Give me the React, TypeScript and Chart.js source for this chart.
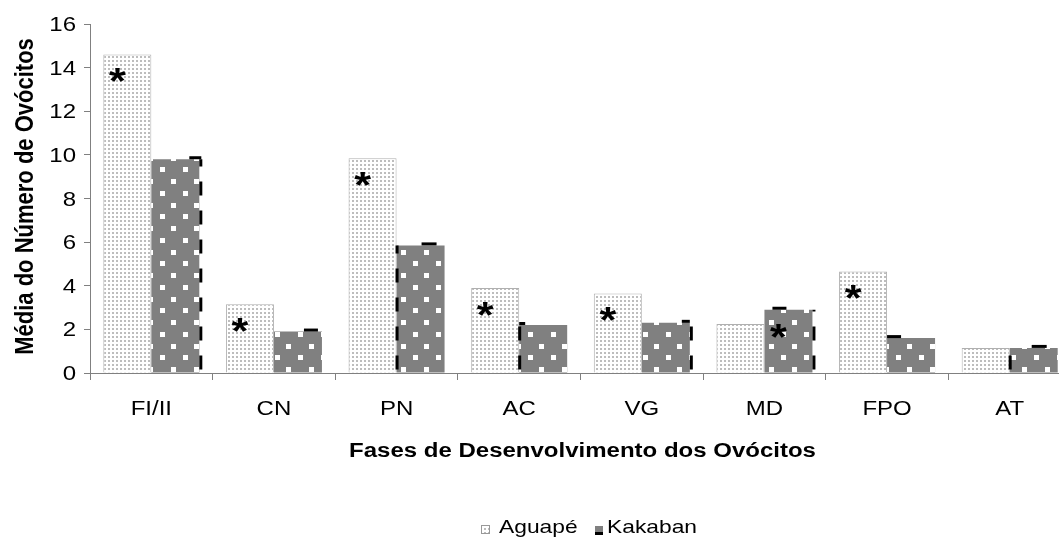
import React, { useEffect, useRef } from 'react';
import { Chart, registerables } from 'chart.js';

Chart.register(...registerables);

// ---------- data ----------
const categories = ['FI/II', 'CN', 'PN', 'AC', 'VG', 'MD', 'FPO', 'AT'];
const seriesNames = ['Aguapé', 'Kakaban'];
const aguapeValues = [14.6, 3.15, 9.85, 3.9, 3.65, 2.25, 4.65, 1.15];
const kakabanValues = [9.8, 1.9, 5.85, 2.2, 2.3, 2.9, 1.6, 1.15];
const aguapeSignificant = [true, true, true, true, true, false, true, false];
const kakabanSignificant = [false, false, false, false, false, true, false, false];
const yMin = 0;
const yMax = 16;
const yStep = 2;
const xAxisTitle = 'Fases de Desenvolvimento dos Ovócitos';
const yAxisTitle = 'Média do Número de Ovócitos';
const significanceMark = '*';

// ---------- style ----------
const FONT = '"Liberation Sans", Arial, sans-serif';
const STRETCH = 1.2;
const AXIS_COLOR = '#808080';
const kakabanDashSide = ['right', 'none', 'left', 'left', 'right', 'right', 'none', 'left'];
const kakabanTopDash = [[38, 50], [30, 44], [25, 40], [0, 6], [40, 48], [8, 22], [0, 14], [22, 37]];

function makeAguapePattern(ctx: CanvasRenderingContext2D) {
  const c = document.createElement('canvas');
  c.width = 4;
  c.height = 4;
  const g = c.getContext('2d')!;
  g.fillStyle = '#ffffff';
  g.fillRect(0, 0, 4, 4);
  g.fillStyle = '#bdbdbd';
  g.fillRect(0, 0, 2, 2);
  return ctx.createPattern(c, 'repeat')!;
}

function makeKakabanPattern(ctx: CanvasRenderingContext2D) {
  const c = document.createElement('canvas');
  c.width = 23;
  c.height = 47;
  const g = c.getContext('2d')!;
  g.fillStyle = '#808080';
  g.fillRect(0, 0, 23, 47);
  g.fillStyle = '#ffffff';
  [[0, 0], [11, 12], [0, 23], [11, 35]].forEach(([x, y]) => g.fillRect(x, y, 5, 5));
  const p = ctx.createPattern(c, 'repeat')!;
  try {
    p.setTransform(new DOMMatrix().translate(22, 3));
  } catch (e) {}
  return p;
}

function stretchText(
  ctx: CanvasRenderingContext2D,
  text: string,
  x: number,
  y: number,
  align: CanvasTextAlign,
  font: string,
  rotate = false
) {
  ctx.save();
  ctx.font = font;
  ctx.fillStyle = '#000000';
  ctx.textAlign = align;
  ctx.textBaseline = 'alphabetic';
  ctx.translate(x, y);
  ctx.scale(STRETCH, 1);
  if (rotate) ctx.rotate(-Math.PI / 2);
  ctx.fillText(text, 0, 0);
  ctx.restore();
}

export default function App() {
  const ref = useRef<HTMLCanvasElement | null>(null);

  useEffect(() => {
    const canvas = ref.current;
    if (!canvas) return;
    const ctx = canvas.getContext('2d')!;
    const aguapePattern = makeAguapePattern(ctx);
    const kakabanPattern = makeKakabanPattern(ctx);

    const decor = {
      id: 'decor',
      afterDatasetsDraw(chart: any) {
        const c: CanvasRenderingContext2D = chart.ctx;
        // Kakaban dashed black edges
        const kMeta = chart.getDatasetMeta(1);
        kMeta.data.forEach((el: any, i: number) => {
          const left = el.x - el.width / 2;
          const right = el.x + el.width / 2;
          const top = el.y;
          const base = el.base;
          c.save();
          c.strokeStyle = '#000000';
          c.lineWidth = 3;
          const side = kakabanDashSide[i];
          if (side !== 'none') {
            const sx = side === 'right' ? right + 1.5 : left + 0.5;
            c.setLineDash([14, 15]);
            c.beginPath();
            c.moveTo(sx, base - 3);
            c.lineTo(sx, top);
            c.stroke();
          }
          c.setLineDash([]);
          const [a, b] = kakabanTopDash[i];
          c.beginPath();
          c.moveTo(left + a, top - 1.5);
          c.lineTo(Math.min(left + b, right + 3), top - 1.5);
          c.stroke();
          c.restore();
        });
        // significance asterisks
        const drawMarks = (dsIndex: number, flags: boolean[]) => {
          const meta = chart.getDatasetMeta(dsIndex);
          meta.data.forEach((el: any, i: number) => {
            if (!flags[i]) return;
            const left = el.x - el.width / 2;
            const size = 36;
            stretchText(c, significanceMark, left + 14, el.y + 20 + 0.55 * size, 'center', `bold ${size}px ${FONT}`);
          });
        };
        drawMarks(0, aguapeSignificant);
        drawMarks(1, kakabanSignificant);
      },
      afterDraw(chart: any) {
        const c: CanvasRenderingContext2D = chart.ctx;
        const area = chart.chartArea;
        const xs = chart.scales.x;
        const ys = chart.scales.y;
        // y tick labels
        ys.ticks.forEach((t: any) => {
          const y = ys.getPixelForValue(t.value);
          stretchText(c, String(t.value), 76, y + 7, 'right', `20px ${FONT}`);
        });
        // x tick labels
        categories.forEach((lab, i) => {
          const x = xs.getPixelForValue(i);
          stretchText(c, lab, x, 415, 'center', `20px ${FONT}`);
        });
        const cx = (area.left + area.right) / 2;
        // axis titles
        stretchText(c, xAxisTitle, cx + 2, 457, 'center', `bold 20px ${FONT}`);
        stretchText(c, yAxisTitle, 33, (area.top + area.bottom) / 2 - 2, 'center', `bold 22px ${FONT}`, true);
        // legend
        c.save();
        c.fillStyle = aguapePattern;
        c.fillRect(cx - 99.5, 525, 9, 9);
        c.strokeStyle = '#999999';
        c.lineWidth = 1;
        c.strokeRect(cx - 99.5 + 0.5, 525.5, 8, 8);
        c.fillStyle = '#808080';
        c.fillRect(cx + 14.5, 526, 8, 8);
        c.fillStyle = '#000000';
        c.fillRect(cx + 14.5, 532, 8, 3);
        c.restore();
        stretchText(c, seriesNames[0], cx - 81.5, 533, 'left', `19px ${FONT}`);
        stretchText(c, seriesNames[1], cx + 26.5, 533, 'left', `19px ${FONT}`);
      },
    };

    const chart = new Chart(canvas, {
      type: 'bar',
      data: {
        labels: categories,
        datasets: [
          {
            label: seriesNames[0],
            data: aguapeValues,
            backgroundColor: aguapePattern,
            borderColor: '#b0b0b0',
            borderWidth: 1,
            borderSkipped: 'start',
          },
          {
            label: seriesNames[1],
            data: kakabanValues,
            backgroundColor: kakabanPattern,
            borderWidth: 0,
          },
        ],
      },
      options: {
        responsive: false,
        animation: false,
        devicePixelRatio: 1,
        layout: { padding: { top: 24, right: 1, left: 0, bottom: 0 } },
        datasets: { bar: { categoryPercentage: 0.783, barPercentage: 1 } },
        scales: {
          x: {
            type: 'category',
            offset: true,
            grid: {
              display: true,
              offset: true,
              drawOnChartArea: false,
              drawTicks: true,
              tickLength: 7,
              color: AXIS_COLOR,
            },
            border: { display: true, color: AXIS_COLOR },
            ticks: { display: false },
            afterFit: (s: any) => {
              s.height = 170;
            },
          },
          y: {
            min: yMin,
            max: yMax,
            ticks: { stepSize: yStep, display: false },
            grid: { drawOnChartArea: false, drawTicks: true, tickLength: 6, color: AXIS_COLOR },
            border: { display: true, color: AXIS_COLOR },
            afterFit: (s: any) => {
              s.width = 90;
            },
          },
        },
        plugins: {
          legend: { display: false },
          tooltip: { enabled: false },
          title: { display: false },
        },
      },
      plugins: [decor],
    } as any);

    return () => chart.destroy();
  }, []);

  return (
    <div style={{ position: 'fixed', left: 0, top: 0, width: '100vw', height: '100vh', overflow: 'hidden', background: '#fff' }}>
      <canvas ref={ref} width={1072} height={543} style={{ display: 'block' }} />
    </div>
  );
}
